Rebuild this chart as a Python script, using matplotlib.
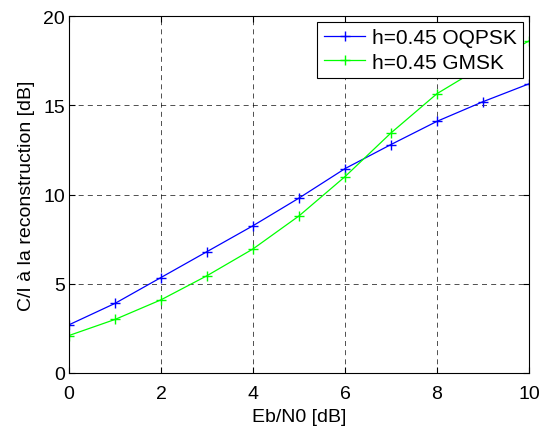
import matplotlib
matplotlib.use('Agg')
import matplotlib.pyplot as plt

# Eb/N0 [dB]
ebn0 = [0, 1, 2, 3, 4, 5, 6, 7, 8, 9, 10]
# C/I after reconstruction [dB]
ci_oqpsk = [2.7, 3.9, 5.35, 6.8, 8.25, 9.8, 11.45, 12.8, 14.1, 15.2, 16.2]
ci_gmsk = [2.1, 3.0, 4.1, 5.45, 6.95, 8.8, 11.0, 13.45, 15.65, 17.2, 18.6]

label_oqpsk = 'h=0.45 OQPSK'
label_gmsk = 'h=0.45 GMSK'

plt.rcParams['font.family'] = ['Liberation Sans', 'DejaVu Sans']
plt.rcParams['font.size'] = 14

fig = plt.figure(figsize=(5.42, 4.31), dpi=100)
# axes box: x 69..529 px, y 17..374 px
ax = fig.add_axes([69 / 542, (431 - 374) / 431, 460 / 542, 357 / 431])

ax.plot(ebn0, ci_oqpsk, color='#0000ff', marker='+', markersize=7, lw=0.9, label=label_oqpsk)
ax.plot(ebn0, ci_gmsk, color='#00ff00', marker='+', markersize=7, lw=0.9, label=label_gmsk)

ax.set_xlim(0, 10)
ax.set_ylim(0, 20)
ax.set_xticks([0, 2, 4, 6, 8, 10])
ax.set_yticks([0, 5, 10, 15, 20])
ax.tick_params(direction='in', length=4, width=0.8, top=True, right=True)
ax.tick_params(axis='x', pad=9)
ax.tick_params(axis='y', pad=3)
ax.grid(True, color='black', linestyle=(0, (6, 5)), lw=0.6, alpha=0.8)
for s in ax.spines.values():
    s.set_linewidth(0.8)

ax.set_xlabel('Eb/N0 [dB]', labelpad=4)
ax.set_ylabel('C/I à la reconstruction [dB]', labelpad=6)

leg = ax.legend(loc='upper right', fancybox=False, framealpha=1, edgecolor='black',
                fontsize=15, borderaxespad=0.3, handlelength=2.0, handletextpad=0.3,
                borderpad=0.3, labelspacing=0.25)
leg.get_frame().set_linewidth(0.8)

fig.savefig('out.png', dpi=100)
